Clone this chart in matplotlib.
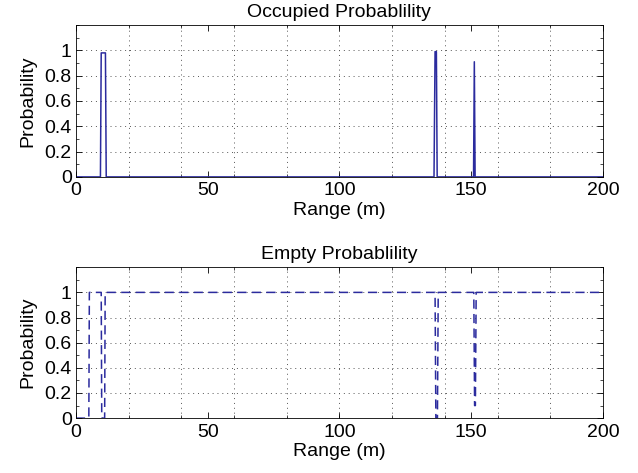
import matplotlib.pyplot as plt
from matplotlib.ticker import MultipleLocator, FixedLocator
import numpy as np

plt.rcParams['font.family'] = ['Liberation Sans', 'DejaVu Sans']

# Occupied probability along the range (m)
occ_range = [0, 9.3, 9.6, 11.2, 11.5, 135.9, 136.3, 136.8, 137.1, 150.9, 151.2, 151.5, 200]
occ_prob = [0, 0, 0.98, 0.98, 0, 0, 0.99, 0.99, 0, 0, 0.91, 0, 0]

# Empty probability along the range (m)
emp_range = [0, 4.9, 5.1, 9.6, 9.8, 10.9, 11.1, 136.3, 136.6, 137.2, 137.5, 151.0, 151.3, 151.6, 151.9, 200]
emp_prob = [0, 0, 1, 1, 0, 0, 1, 1, 0, 0, 1, 1, 0.1, 0.1, 1, 1]

x_ticks = [0, 50, 100, 150, 200]
y_ticks = [0, 0.2, 0.4, 0.6, 0.8, 1]
y_tick_labels = ['0', '0.2', '0.4', '0.6', '0.8', '1']
grid_x = [20, 40, 60, 80, 100, 120, 140, 160, 180]

LINE_COLOR = '#2b2b9e'
FS = 14

fig = plt.figure(figsize=(6.38, 4.73), dpi=100)
ax1 = fig.add_axes([0.119, 0.626, 0.826, 0.321])
ax2 = fig.add_axes([0.119, 0.116, 0.826, 0.319])


def style_axes(ax, title):
    ax.set_xlim(0, 200)
    ax.set_ylim(0, 1.2)
    ax.set_xticks(x_ticks)
    ax.set_xticklabels([str(t) for t in x_ticks])
    ax.set_yticks(y_ticks)
    ax.set_yticklabels(y_tick_labels)
    ax.xaxis.set_minor_locator(FixedLocator(grid_x))
    ax.xaxis.remove_overlapping_locs = False
    ax.yaxis.set_minor_locator(MultipleLocator(0.1))
    ax.tick_params(which='both', direction='in', top=True, right=True, labelsize=FS)
    ax.tick_params(which='major', length=4, width=0.6)
    ax.tick_params(axis='x', which='major', pad=4)
    ax.tick_params(axis='y', which='major', pad=3)
    ax.tick_params(which='minor', length=2, width=0.5)
    ax.grid(True, which='minor', axis='x', linestyle=(0, (1, 4)), color='#555555', linewidth=0.7)
    ax.grid(True, which='major', axis='y', linestyle=(0, (1, 4)), color='#555555', linewidth=0.7)
    for s in ax.spines.values():
        s.set_linewidth(0.6)
    ax.set_title(title, fontsize=FS, pad=6)
    ax.set_xlabel('Range (m)', fontsize=FS, labelpad=2)
    ax.set_ylabel('Probability', fontsize=FS, labelpad=6)


ax1.plot(occ_range, occ_prob, color=LINE_COLOR, linewidth=1.1)
style_axes(ax1, 'Occupied Probablility')

ax2.plot(emp_range, emp_prob, color=LINE_COLOR, linewidth=1.1, dashes=(6, 3.5))
style_axes(ax2, 'Empty Probablility')

fig.savefig('out.png', dpi=100)
